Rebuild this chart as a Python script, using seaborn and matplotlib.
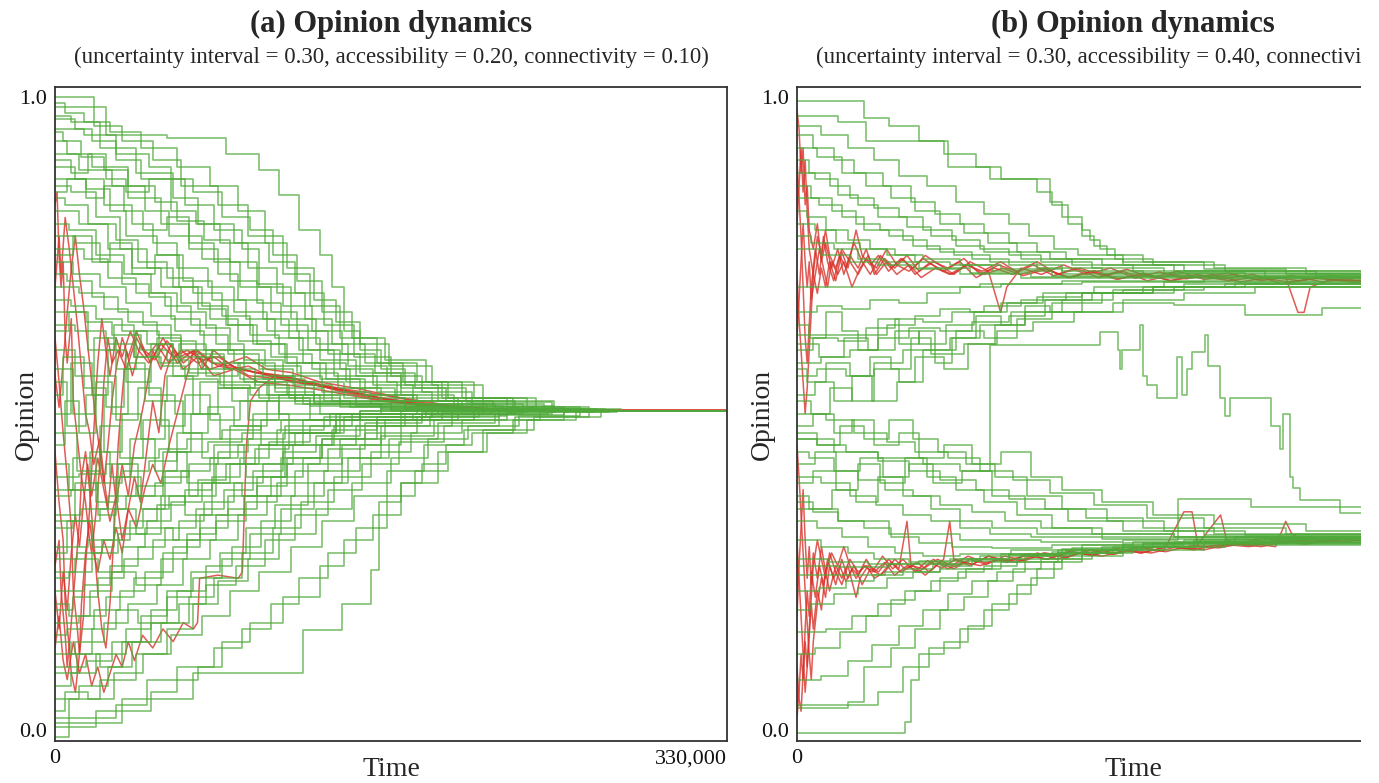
import matplotlib
matplotlib.use("Agg")
import matplotlib.pyplot as plt
from matplotlib.patches import Rectangle
import pandas as pd
import seaborn as sns

# ---------------------------------------------------------------------------
# Agent opinion trajectories, as (time in thousands of steps, opinion) pairs.
# Each agent keeps its last opinion until the end of the run.
# ---------------------------------------------------------------------------
T_END = 330  # thousands of steps

# (a) uncertainty 0.30, accessibility 0.20, connectivity 0.10
a_green_upper = [
    [(0, 1.0), (19, 0.955), (33, 0.93), (48, 0.90), (62, 0.86), (80, 0.83), (95, 0.78), (112, 0.72), (125, 0.67), (140, 0.62), (158, 0.58), (178, 0.55), (200, 0.525), (232, 0.51), (262, 0.505)],
    [(0, 0.985), (25, 0.94), (55, 0.935), (84, 0.91), (100, 0.885), (110, 0.845), (120, 0.79), (130, 0.75), (136, 0.70), (142, 0.63), (150, 0.60), (160, 0.57), (172, 0.545), (188, 0.52), (215, 0.51), (250, 0.505)],
    [(0, 0.97), (8, 0.96), (22, 0.92), (40, 0.88), (58, 0.84), (70, 0.80), (88, 0.77), (105, 0.74), (118, 0.69), (132, 0.64), (147, 0.59), (165, 0.56), (180, 0.535), (205, 0.515), (240, 0.505)],
    [(0, 0.95), (14, 0.94), (30, 0.90), (42, 0.87), (64, 0.83), (78, 0.79), (92, 0.76), (100, 0.70), (116, 0.65), (128, 0.61), (144, 0.575), (163, 0.55), (190, 0.525), (225, 0.508), (270, 0.505)],
    [(0, 0.93), (6, 0.91), (18, 0.89), (36, 0.84), (52, 0.80), (66, 0.76), (80, 0.72), (90, 0.68), (102, 0.65), (115, 0.62), (130, 0.585), (148, 0.56), (170, 0.53), (196, 0.512), (245, 0.505)],
    [(0, 0.91), (12, 0.885), (28, 0.86), (44, 0.82), (56, 0.78), (72, 0.745), (86, 0.71), (99, 0.675), (111, 0.64), (124, 0.60), (140, 0.57), (156, 0.545), (176, 0.52), (210, 0.506), (275, 0.505)],
    [(0, 0.89), (10, 0.87), (24, 0.83), (38, 0.80), (48, 0.77), (60, 0.73), (75, 0.70), (88, 0.66), (104, 0.63), (120, 0.60), (137, 0.56), (158, 0.535), (185, 0.515), (230, 0.505)],
    [(0, 0.87), (15, 0.855), (27, 0.82), (35, 0.78), (50, 0.75), (63, 0.71), (77, 0.68), (94, 0.65), (108, 0.62), (122, 0.58), (143, 0.55), (168, 0.525), (198, 0.508), (255, 0.505)],
    [(0, 0.86), (8, 0.85), (20, 0.81), (32, 0.76), (45, 0.73), (58, 0.70), (70, 0.665), (84, 0.64), (97, 0.61), (113, 0.58), (133, 0.555), (152, 0.53), (178, 0.512), (220, 0.505)],
    [(0, 0.84), (5, 0.83), (16, 0.80), (30, 0.775), (41, 0.74), (55, 0.715), (68, 0.69), (82, 0.655), (96, 0.625), (110, 0.595), (126, 0.57), (145, 0.54), (167, 0.52), (200, 0.507), (260, 0.505)],
    [(0, 0.82), (12, 0.80), (26, 0.76), (38, 0.73), (52, 0.70), (62, 0.675), (76, 0.65), (90, 0.615), (106, 0.59), (119, 0.565), (139, 0.54), (160, 0.52), (205, 0.508), (248, 0.505)],
    [(0, 0.80), (7, 0.79), (20, 0.75), (34, 0.72), (47, 0.69), (60, 0.66), (74, 0.635), (86, 0.60), (103, 0.575), (121, 0.55), (142, 0.525), (172, 0.51), (235, 0.505)],
    [(0, 0.78), (10, 0.77), (22, 0.74), (33, 0.705), (46, 0.685), (57, 0.65), (71, 0.625), (85, 0.595), (100, 0.57), (117, 0.545), (136, 0.52), (180, 0.51), (228, 0.505)],
    [(0, 0.76), (14, 0.745), (26, 0.715), (40, 0.69), (54, 0.67), (67, 0.64), (79, 0.61), (93, 0.585), (112, 0.56), (131, 0.535), (155, 0.515), (212, 0.505)],
    [(0, 0.74), (9, 0.72), (22, 0.70), (35, 0.675), (47, 0.655), (59, 0.63), (73, 0.60), (88, 0.58), (102, 0.555), (123, 0.53), (148, 0.512), (200, 0.505)],
    [(0, 0.72), (6, 0.71), (18, 0.685), (31, 0.66), (43, 0.64), (57, 0.615), (69, 0.595), (83, 0.57), (98, 0.545), (115, 0.525), (140, 0.51), (190, 0.505)],
    [(0, 0.70), (12, 0.69), (24, 0.665), (36, 0.645), (50, 0.625), (62, 0.60), (77, 0.58), (91, 0.555), (108, 0.535), (127, 0.518), (172, 0.508), (222, 0.505)],
    [(0, 0.68), (8, 0.67), (20, 0.65), (33, 0.63), (45, 0.61), (58, 0.59), (72, 0.57), (87, 0.55), (104, 0.53), (122, 0.515), (165, 0.505)],
    [(0, 0.66), (15, 0.645), (28, 0.625), (42, 0.60), (55, 0.585), (66, 0.565), (81, 0.545), (96, 0.53), (118, 0.515), (160, 0.508), (215, 0.505)],
    [(0, 0.64), (10, 0.63), (25, 0.61), (39, 0.59), (52, 0.575), (64, 0.555), (80, 0.54), (100, 0.525), (125, 0.512), (180, 0.505)],
    [(0, 0.99), (5, 0.975), (14, 0.96), (27, 0.945), (42, 0.92), (60, 0.89), (76, 0.86), (90, 0.82), (103, 0.77), (114, 0.73), (127, 0.68), (138, 0.645), (150, 0.61), (164, 0.575), (185, 0.545), (210, 0.52), (245, 0.507), (278, 0.505)],
    [(0, 0.965), (10, 0.95), (18, 0.93), (30, 0.91), (46, 0.89), (57, 0.87), (68, 0.85), (82, 0.81), (96, 0.79), (107, 0.75), (119, 0.71), (131, 0.66), (146, 0.62), (162, 0.585), (182, 0.55), (206, 0.525), (236, 0.508), (266, 0.505)],
    [(0, 0.945), (4, 0.93), (13, 0.905), (24, 0.885), (36, 0.86), (49, 0.835), (60, 0.805), (73, 0.775), (86, 0.74), (99, 0.705), (112, 0.67), (126, 0.63), (141, 0.595), (157, 0.565), (177, 0.54), (202, 0.518), (244, 0.505)],
    [(0, 0.90), (8, 0.88), (16, 0.91), (25, 0.87), (35, 0.85), (46, 0.87), (57, 0.82), (69, 0.80), (81, 0.77), (95, 0.73), (109, 0.69), (123, 0.65), (136, 0.61), (152, 0.58), (171, 0.55), (193, 0.525), (222, 0.51), (258, 0.505)],
    [(0, 0.85), (6, 0.87), (15, 0.84), (24, 0.86), (34, 0.82), (43, 0.79), (55, 0.81), (66, 0.77), (78, 0.74), (91, 0.70), (106, 0.66), (119, 0.63), (134, 0.595), (150, 0.565), (170, 0.54), (192, 0.52), (226, 0.505)],
    [(0, 0.75), (9, 0.78), (18, 0.74), (27, 0.77), (38, 0.72), (49, 0.75), (61, 0.70), (72, 0.67), (85, 0.64), (99, 0.61), (114, 0.58), (130, 0.555), (150, 0.53), (176, 0.515), (216, 0.505)],
]

a_green_lower = [
    [(0, 0.012), (33, 0.05), (68, 0.09), (122, 0.158), (141, 0.20), (155, 0.253), (159, 0.36), (170, 0.39), (180, 0.42), (192, 0.45), (205, 0.47), (225, 0.49), (250, 0.503), (272, 0.505)],
    [(0, -0.01), (7, 0.05), (22, 0.08), (40, 0.12), (55, 0.16), (68, 0.20), (80, 0.235), (95, 0.27), (110, 0.31), (128, 0.35), (146, 0.39), (165, 0.43), (183, 0.46), (203, 0.48), (228, 0.497), (258, 0.505)],
    [(0, 0.02), (30, 0.04), (45, 0.08), (70, 0.10), (82, 0.14), (96, 0.17), (112, 0.21), (130, 0.26), (142, 0.30), (156, 0.34), (170, 0.39), (188, 0.44), (210, 0.475), (235, 0.495), (268, 0.505)],
    [(0, 0.05), (12, 0.07), (26, 0.10), (38, 0.14), (52, 0.17), (66, 0.21), (78, 0.24), (92, 0.28), (107, 0.32), (121, 0.36), (137, 0.40), (155, 0.44), (175, 0.47), (200, 0.49), (238, 0.502), (265, 0.505)],
    [(0, 0.07), (8, 0.09), (20, 0.12), (35, 0.16), (47, 0.19), (60, 0.22), (74, 0.26), (87, 0.29), (101, 0.33), (116, 0.37), (132, 0.41), (150, 0.45), (170, 0.48), (195, 0.50), (230, 0.505)],
    [(0, 0.10), (15, 0.11), (28, 0.14), (42, 0.18), (55, 0.21), (67, 0.25), (81, 0.28), (94, 0.32), (108, 0.355), (124, 0.39), (141, 0.43), (160, 0.465), (186, 0.49), (222, 0.503), (252, 0.505)],
    [(0, 0.12), (10, 0.14), (24, 0.17), (36, 0.20), (50, 0.23), (63, 0.27), (76, 0.30), (90, 0.34), (104, 0.37), (118, 0.41), (134, 0.445), (152, 0.47), (178, 0.495), (218, 0.505)],
    [(0, 0.15), (6, 0.16), (19, 0.19), (32, 0.22), (44, 0.25), (58, 0.29), (71, 0.32), (85, 0.35), (99, 0.385), (114, 0.42), (130, 0.45), (148, 0.48), (172, 0.50), (210, 0.505)],
    [(0, 0.17), (12, 0.18), (25, 0.21), (39, 0.24), (53, 0.28), (65, 0.31), (79, 0.34), (93, 0.37), (106, 0.40), (122, 0.43), (140, 0.46), (162, 0.49), (198, 0.50), (242, 0.505)],
    [(0, 0.19), (9, 0.21), (21, 0.24), (34, 0.27), (48, 0.30), (61, 0.33), (73, 0.36), (88, 0.39), (102, 0.42), (117, 0.45), (136, 0.475), (158, 0.495), (208, 0.505)],
    [(0, 0.22), (14, 0.23), (27, 0.26), (41, 0.29), (54, 0.32), (69, 0.35), (83, 0.38), (97, 0.41), (112, 0.44), (128, 0.465), (150, 0.49), (190, 0.502), (232, 0.505)],
    [(0, 0.24), (7, 0.25), (18, 0.28), (31, 0.31), (45, 0.33), (57, 0.36), (72, 0.39), (86, 0.42), (100, 0.45), (118, 0.47), (142, 0.495), (185, 0.505)],
    [(0, 0.27), (11, 0.28), (23, 0.30), (37, 0.33), (50, 0.355), (64, 0.38), (77, 0.40), (91, 0.43), (105, 0.455), (125, 0.48), (146, 0.50), (195, 0.505)],
    [(0, 0.29), (16, 0.30), (29, 0.32), (43, 0.35), (56, 0.37), (70, 0.395), (84, 0.42), (98, 0.445), (115, 0.47), (138, 0.49), (176, 0.50), (226, 0.505)],
    [(0, 0.32), (9, 0.33), (22, 0.35), (35, 0.37), (49, 0.39), (62, 0.41), (76, 0.43), (90, 0.45), (109, 0.475), (132, 0.495), (182, 0.505)],
    [(0, 0.34), (13, 0.35), (26, 0.37), (40, 0.385), (53, 0.40), (66, 0.42), (80, 0.44), (95, 0.46), (113, 0.48), (135, 0.50), (170, 0.505)],
    [(0, 0.37), (8, 0.38), (20, 0.39), (33, 0.41), (46, 0.425), (60, 0.44), (75, 0.455), (92, 0.47), (111, 0.49), (150, 0.50), (200, 0.505)],
    [(0, 0.40), (12, 0.405), (25, 0.42), (38, 0.43), (51, 0.445), (65, 0.46), (82, 0.475), (101, 0.49), (140, 0.50), (188, 0.505)],
    [(0, 0.005), (20, 0.03), (47, 0.06), (60, 0.10), (78, 0.13), (92, 0.16), (106, 0.20), (120, 0.24), (134, 0.28), (148, 0.32), (163, 0.37), (177, 0.41), (193, 0.44), (212, 0.47), (232, 0.49), (256, 0.503), (276, 0.505)],
    [(0, 0.03), (5, 0.06), (16, 0.05), (29, 0.09), (43, 0.12), (57, 0.15), (72, 0.18), (86, 0.22), (100, 0.25), (116, 0.29), (131, 0.33), (147, 0.37), (163, 0.41), (181, 0.45), (201, 0.475), (226, 0.495), (262, 0.505)],
    [(0, 0.09), (11, 0.12), (22, 0.10), (33, 0.14), (47, 0.17), (61, 0.20), (74, 0.23), (89, 0.26), (103, 0.30), (118, 0.34), (134, 0.38), (151, 0.42), (169, 0.455), (191, 0.48), (218, 0.498), (250, 0.505)],
    [(0, 0.14), (8, 0.12), (18, 0.16), (30, 0.19), (41, 0.17), (55, 0.22), (68, 0.24), (82, 0.27), (96, 0.31), (111, 0.35), (127, 0.39), (144, 0.43), (164, 0.46), (188, 0.485), (216, 0.50), (244, 0.505)],
    [(0, 0.20), (7, 0.18), (17, 0.22), (28, 0.25), (40, 0.23), (52, 0.27), (65, 0.30), (79, 0.33), (94, 0.36), (109, 0.39), (124, 0.42), (141, 0.45), (160, 0.48), (184, 0.497), (222, 0.505)],
    [(0, 0.25), (10, 0.27), (21, 0.25), (33, 0.29), (44, 0.32), (58, 0.30), (71, 0.34), (85, 0.37), (99, 0.40), (114, 0.43), (131, 0.46), (152, 0.485), (180, 0.50), (214, 0.505)],
]

a_green_middle = [
    [(0, 0.45), (5, 0.52), (12, 0.47), (20, 0.55), (28, 0.50), (36, 0.58), (44, 0.52), (55, 0.56), (68, 0.50), (80, 0.54), (95, 0.49), (110, 0.53), (130, 0.50), (160, 0.51), (200, 0.505)],
    [(0, 0.55), (6, 0.48), (15, 0.53), (24, 0.44), (33, 0.50), (42, 0.46), (54, 0.52), (63, 0.47), (75, 0.51), (88, 0.48), (104, 0.52), (125, 0.49), (150, 0.505)],
    [(0, 0.50), (8, 0.58), (18, 0.53), (26, 0.60), (35, 0.55), (47, 0.61), (58, 0.56), (70, 0.59), (83, 0.54), (98, 0.56), (118, 0.52), (145, 0.51), (196, 0.505)],
    [(0, 0.42), (7, 0.38), (17, 0.44), (27, 0.40), (37, 0.46), (49, 0.41), (60, 0.47), (72, 0.43), (86, 0.48), (101, 0.45), (122, 0.49), (150, 0.50), (205, 0.505)],
    [(0, 0.60), (10, 0.56), (19, 0.62), (30, 0.57), (40, 0.63), (51, 0.58), (61, 0.61), (74, 0.56), (90, 0.58), (108, 0.54), (132, 0.52), (165, 0.508), (238, 0.505)],
    [(0, 0.38), (9, 0.43), (20, 0.36), (31, 0.42), (41, 0.37), (53, 0.44), (65, 0.39), (78, 0.45), (93, 0.42), (112, 0.47), (140, 0.49), (180, 0.503), (246, 0.505)],
    [(0, 0.47), (11, 0.41), (22, 0.48), (32, 0.43), (43, 0.49), (56, 0.44), (67, 0.50), (81, 0.46), (97, 0.50), (115, 0.47), (138, 0.50), (178, 0.505)],
    [(0, 0.53), (4, 0.59), (14, 0.54), (25, 0.51), (34, 0.57), (46, 0.53), (59, 0.50), (71, 0.55), (87, 0.52), (105, 0.55), (127, 0.515), (160, 0.507), (214, 0.505)],
    [(0, 0.33), (10, 0.39), (21, 0.34), (30, 0.40), (42, 0.35), (54, 0.41), (66, 0.37), (79, 0.42), (94, 0.40), (113, 0.45), (137, 0.48), (170, 0.50), (224, 0.505)],
    [(0, 0.63), (7, 0.66), (16, 0.60), (29, 0.64), (39, 0.59), (50, 0.62), (62, 0.57), (77, 0.60), (93, 0.55), (114, 0.53), (140, 0.515), (186, 0.505)],
    [(0, 0.28), (6, 0.33), (18, 0.29), (29, 0.35), (40, 0.31), (52, 0.37), (64, 0.34), (77, 0.39), (92, 0.37), (111, 0.43), (131, 0.46), (158, 0.49), (206, 0.505)],
    [(0, 0.57), (9, 0.50), (19, 0.56), (30, 0.49), (41, 0.54), (52, 0.48), (64, 0.53), (76, 0.49), (91, 0.52), (110, 0.50), (150, 0.505)],
]

a_red = [
    [(0, 0.83), (1, 0.85), (2, 0.75), (3, 0.70), (4, 0.74), (5, 0.62), (6, 0.58), (8, 0.65), (9, 0.52), (11, 0.46), (13, 0.40), (15, 0.36), (17, 0.30), (18, 0.28), (20, 0.34), (22, 0.42), (24, 0.55), (26, 0.62), (28, 0.58), (31, 0.60), (35, 0.57), (40, 0.62), (45, 0.59), (50, 0.61), (56, 0.58), (62, 0.60), (70, 0.58), (78, 0.59), (86, 0.57), (95, 0.575), (105, 0.56), (118, 0.555), (130, 0.545), (145, 0.535), (160, 0.525), (180, 0.515), (200, 0.51), (230, 0.505)],
    [(0, 0.62), (2, 0.55), (4, 0.47), (6, 0.40), (8, 0.32), (9, 0.22), (11, 0.16), (12, 0.12), (14, 0.18), (15, 0.26), (17, 0.35), (19, 0.47), (21, 0.58), (23, 0.65), (25, 0.60), (27, 0.56), (30, 0.62), (33, 0.59), (37, 0.63), (41, 0.60), (46, 0.58), (52, 0.61), (58, 0.59), (65, 0.60), (72, 0.585), (80, 0.59), (90, 0.57), (100, 0.565), (112, 0.56), (125, 0.55), (140, 0.54), (160, 0.53), (185, 0.515), (215, 0.507), (240, 0.505)],
    [(0, 0.26), (2, 0.30), (3, 0.22), (5, 0.15), (6, 0.10), (8, 0.17), (10, 0.25), (12, 0.33), (13, 0.40), (15, 0.44), (17, 0.38), (19, 0.30), (21, 0.22), (23, 0.16), (25, 0.13), (27, 0.20), (29, 0.31), (31, 0.45), (33, 0.53), (35, 0.60), (38, 0.56), (42, 0.61), (47, 0.58), (53, 0.62), (60, 0.58), (68, 0.60), (76, 0.57), (85, 0.58), (95, 0.56), (110, 0.555), (128, 0.545), (150, 0.53), (175, 0.515), (210, 0.505)],
    [(0, 0.56), (2, 0.51), (4, 0.58), (6, 0.66), (8, 0.73), (10, 0.78), (12, 0.72), (14, 0.67), (16, 0.61), (18, 0.55), (20, 0.49), (22, 0.44), (24, 0.39), (26, 0.45), (28, 0.52), (30, 0.57), (33, 0.62), (36, 0.59), (40, 0.63), (44, 0.60), (49, 0.585), (55, 0.615), (61, 0.59), (69, 0.60), (77, 0.58), (87, 0.575), (98, 0.565), (110, 0.56), (124, 0.55), (140, 0.535), (162, 0.52), (190, 0.51), (225, 0.505)],
    [(0, 0.44), (2, 0.36), (4, 0.30), (5, 0.20), (7, 0.13), (8, 0.09), (10, 0.06), (12, 0.12), (13, 0.20), (15, 0.28), (17, 0.33), (19, 0.28), (21, 0.25), (24, 0.30), (27, 0.27), (30, 0.32), (33, 0.28), (36, 0.35), (39, 0.40), (42, 0.36), (45, 0.44), (48, 0.52), (51, 0.47), (54, 0.56), (58, 0.60), (63, 0.57), (70, 0.59), (78, 0.56), (88, 0.57), (100, 0.55), (115, 0.545), (135, 0.535), (160, 0.52), (190, 0.51), (220, 0.505)],
    [(0, 0.13), (2, 0.18), (4, 0.11), (6, 0.08), (9, 0.14), (12, 0.09), (15, 0.12), (18, 0.07), (21, 0.10), (24, 0.06), (27, 0.09), (30, 0.12), (33, 0.10), (36, 0.14), (39, 0.11), (43, 0.15), (48, 0.13), (53, 0.16), (58, 0.14), (63, 0.17), (68, 0.16), (70, 0.17), (71, 0.24), (80, 0.245), (90, 0.24), (92, 0.25), (94, 0.45), (96, 0.52), (100, 0.54), (108, 0.56), (116, 0.55), (128, 0.545), (145, 0.535), (165, 0.52), (195, 0.51), (230, 0.505)],
    [(0, 0.70), (2, 0.78), (3, 0.72), (5, 0.81), (7, 0.76), (9, 0.70), (11, 0.64), (13, 0.57), (15, 0.50), (17, 0.47), (19, 0.42), (22, 0.46), (24, 0.40), (26, 0.35), (28, 0.42), (30, 0.36), (33, 0.42), (36, 0.37), (39, 0.45), (42, 0.49), (45, 0.54), (48, 0.60), (52, 0.57), (57, 0.61), (63, 0.58), (70, 0.60), (80, 0.575), (92, 0.57), (105, 0.56), (120, 0.55), (138, 0.54), (160, 0.525), (190, 0.512), (222, 0.505)],
    [(0, 0.22), (2, 0.16), (4, 0.25), (6, 0.19), (8, 0.28), (10, 0.34), (12, 0.29), (14, 0.36), (16, 0.42), (18, 0.37), (21, 0.43), (24, 0.38), (27, 0.33), (30, 0.37), (33, 0.30), (36, 0.35), (40, 0.32), (44, 0.38), (48, 0.42), (52, 0.39), (56, 0.45), (60, 0.50), (64, 0.55), (68, 0.60), (72, 0.57), (78, 0.60), (85, 0.58), (94, 0.59), (104, 0.57), (116, 0.565), (130, 0.55), (148, 0.54), (170, 0.525), (200, 0.51), (235, 0.505)],
]

# (b) uncertainty 0.30, accessibility 0.40, connectivity 0.10
b_green_upper = [
    [(0, 0.994), (33, 0.967), (45, 0.955), (60, 0.93), (72, 0.91), (88, 0.89), (100, 0.87), (118, 0.85), (125, 0.83), (133, 0.80), (140, 0.78), (146, 0.765), (152, 0.75), (160, 0.74), (205, 0.73), (250, 0.72)],
    [(0, 0.97), (20, 0.96), (34, 0.93), (74, 0.89), (95, 0.87), (124, 0.834), (130, 0.81), (140, 0.79), (144, 0.775), (149, 0.76), (156, 0.745), (175, 0.735), (210, 0.725), (255, 0.718)],
    [(0, 0.955), (12, 0.94), (25, 0.92), (38, 0.90), (50, 0.875), (64, 0.86), (78, 0.835), (92, 0.815), (104, 0.80), (114, 0.78), (126, 0.76), (138, 0.75), (170, 0.74), (200, 0.728), (240, 0.72)],
    [(0, 0.94), (8, 0.92), (18, 0.90), (28, 0.88), (42, 0.86), (56, 0.835), (68, 0.815), (80, 0.80), (92, 0.785), (104, 0.77), (118, 0.755), (132, 0.745), (160, 0.735), (190, 0.725), (230, 0.716)],
    [(0, 0.92), (10, 0.905), (22, 0.88), (34, 0.86), (46, 0.84), (58, 0.82), (70, 0.80), (82, 0.785), (94, 0.77), (108, 0.755), (124, 0.745), (150, 0.735), (185, 0.725)],
    [(0, 0.90), (6, 0.88), (16, 0.86), (26, 0.84), (38, 0.825), (50, 0.81), (62, 0.79), (76, 0.775), (90, 0.76), (104, 0.75), (120, 0.74), (145, 0.73), (180, 0.722), (220, 0.715)],
    [(0, 0.88), (9, 0.87), (20, 0.845), (30, 0.83), (40, 0.81), (54, 0.795), (66, 0.78), (78, 0.765), (92, 0.755), (110, 0.745), (135, 0.735), (165, 0.726)],
    [(0, 0.86), (7, 0.84), (17, 0.82), (29, 0.80), (41, 0.79), (52, 0.775), (64, 0.76), (77, 0.75), (95, 0.74), (118, 0.73), (150, 0.722)],
    [(0, 0.84), (11, 0.83), (22, 0.81), (33, 0.79), (45, 0.78), (57, 0.765), (70, 0.755), (86, 0.745), (104, 0.735), (130, 0.726), (170, 0.718)],
    [(0, 0.82), (5, 0.81), (14, 0.79), (25, 0.775), (36, 0.76), (48, 0.75), (62, 0.745), (80, 0.735), (100, 0.728), (130, 0.72)],
    [(0, 0.80), (9, 0.79), (19, 0.77), (31, 0.76), (44, 0.75), (58, 0.74), (75, 0.735), (96, 0.725), (125, 0.718)],
    [(0, 0.78), (7, 0.77), (18, 0.76), (30, 0.745), (43, 0.74), (60, 0.73), (85, 0.722), (115, 0.716)],
    [(0, 0.76), (12, 0.75), (26, 0.74), (40, 0.735), (58, 0.728), (80, 0.72), (110, 0.714)],
    [(0, 0.70), (45, 0.70), (90, 0.705), (140, 0.708), (200, 0.712)],
    [(0, 0.66), (10, 0.67), (22, 0.665), (36, 0.68), (50, 0.675), (64, 0.69), (80, 0.70), (100, 0.705), (130, 0.71)],
    [(0, 0.624), (44, 0.64), (58, 0.655), (70, 0.665), (85, 0.66), (100, 0.675), (118, 0.685), (140, 0.69), (175, 0.70), (210, 0.705)],
    [(0, 0.60), (8, 0.62), (20, 0.615), (34, 0.635), (48, 0.65), (62, 0.645), (76, 0.66), (92, 0.67), (110, 0.68), (132, 0.69), (160, 0.695), (200, 0.70)],
    [(0, 0.58), (12, 0.59), (26, 0.60), (40, 0.62), (55, 0.635), (70, 0.63), (86, 0.645), (104, 0.655), (122, 0.66), (155, 0.675), (185, 0.672), (220, 0.656), (258, 0.667)],
    [(0, 0.56), (10, 0.57), (24, 0.56), (38, 0.58), (52, 0.60), (66, 0.595), (82, 0.61), (98, 0.63), (116, 0.645), (136, 0.66), (160, 0.68), (190, 0.69), (225, 0.70)],
    [(0, 0.64), (6, 0.62), (14, 0.66), (22, 0.63), (30, 0.60), (40, 0.65), (50, 0.61), (60, 0.63), (68, 0.58), (76, 0.62), (88, 0.655), (100, 0.64), (112, 0.67), (124, 0.66), (140, 0.69), (170, 0.70), (220, 0.705)],
    [(0, 0.53), (9, 0.55), (18, 0.52), (27, 0.56), (36, 0.59), (46, 0.57), (56, 0.62), (66, 0.60), (78, 0.63), (92, 0.62), (108, 0.65), (125, 0.675), (150, 0.69), (185, 0.70)],
    [(0, 0.52), (7, 0.50), (16, 0.54), (27, 0.52), (38, 0.57), (50, 0.55), (62, 0.60), (75, 0.62), (90, 0.64), (105, 0.66), (122, 0.68), (145, 0.69), (175, 0.70), (215, 0.706)],
    [(0, 0.61), (11, 0.59), (23, 0.62), (35, 0.60), (48, 0.63), (60, 0.61), (73, 0.64), (87, 0.66), (103, 0.675), (121, 0.69), (146, 0.70), (180, 0.708)],
    [(0, 0.57), (5, 0.55), (14, 0.58), (26, 0.56), (37, 0.52), (49, 0.55), (58, 0.59), (72, 0.57), (84, 0.61), (97, 0.64), (112, 0.66), (130, 0.68), (155, 0.695), (190, 0.705)],
]

b_green_lower = [
    [(0, -0.005), (53, 0.013), (56, 0.079), (60, 0.12), (72, 0.14), (84, 0.165), (96, 0.20), (108, 0.23), (118, 0.255), (130, 0.27), (145, 0.28), (165, 0.29), (200, 0.298), (240, 0.303)],
    [(0, 0.035), (25, 0.04), (40, 0.06), (52, 0.10), (65, 0.13), (80, 0.16), (92, 0.19), (104, 0.215), (115, 0.24), (126, 0.265), (140, 0.28), (160, 0.29), (195, 0.30)],
    [(0, 0.04), (25, 0.045), (33, 0.10), (46, 0.13), (58, 0.16), (70, 0.19), (82, 0.21), (94, 0.235), (106, 0.255), (120, 0.27), (140, 0.285), (170, 0.295), (210, 0.302)],
    [(0, 0.08), (12, 0.085), (25, 0.11), (37, 0.135), (50, 0.165), (62, 0.19), (74, 0.215), (86, 0.235), (98, 0.25), (112, 0.265), (128, 0.28), (150, 0.29), (185, 0.298)],
    [(0, 0.12), (9, 0.13), (21, 0.155), (34, 0.18), (46, 0.205), (58, 0.22), (70, 0.24), (83, 0.255), (96, 0.265), (112, 0.275), (132, 0.285), (160, 0.295)],
    [(0, 0.155), (14, 0.16), (27, 0.18), (40, 0.20), (53, 0.22), (66, 0.235), (79, 0.25), (92, 0.26), (108, 0.27), (128, 0.28), (155, 0.29), (195, 0.298)],
    [(0, 0.19), (7, 0.20), (18, 0.215), (30, 0.225), (44, 0.24), (57, 0.25), (70, 0.26), (86, 0.268), (104, 0.276), (128, 0.285), (160, 0.292)],
    [(0, 0.22), (11, 0.225), (24, 0.235), (38, 0.245), (52, 0.255), (67, 0.262), (84, 0.27), (104, 0.278), (130, 0.286), (170, 0.294)],
    [(0, 0.245), (43, 0.25), (70, 0.255), (100, 0.265), (130, 0.275), (160, 0.285), (200, 0.295)],
    [(0, 0.26), (20, 0.258), (45, 0.262), (80, 0.27), (110, 0.278), (140, 0.285), (180, 0.295), (230, 0.302)],
    [(0, 0.27), (15, 0.266), (35, 0.262), (60, 0.268), (90, 0.275), (125, 0.282), (165, 0.29), (210, 0.298), (260, 0.305)],
    [(0, 0.30), (12, 0.29), (25, 0.28), (38, 0.27), (55, 0.265), (75, 0.27), (100, 0.278), (135, 0.288), (175, 0.295), (225, 0.303)],
    [(0, 0.33), (10, 0.32), (22, 0.305), (35, 0.29), (48, 0.28), (62, 0.275), (80, 0.278), (105, 0.285), (140, 0.292), (190, 0.30)],
    [(0, 0.36), (8, 0.345), (20, 0.33), (33, 0.32), (46, 0.305), (60, 0.295), (76, 0.29), (96, 0.288), (125, 0.292), (165, 0.298), (215, 0.305)],
    [(0, 0.40), (12, 0.39), (26, 0.37), (39, 0.355), (52, 0.34), (66, 0.33), (80, 0.32), (95, 0.31), (115, 0.305), (150, 0.302)],
    [(0, 0.44), (6, 0.43), (18, 0.41), (30, 0.395), (43, 0.38), (57, 0.37), (70, 0.355), (86, 0.345), (102, 0.33), (120, 0.32), (145, 0.31), (185, 0.305)],
    [(0, 0.46), (10, 0.45), (24, 0.44), (40, 0.425), (55, 0.41), (70, 0.395), (88, 0.38), (104, 0.365), (122, 0.35), (142, 0.335), (170, 0.32), (205, 0.31)],
    [(0, 0.50), (14, 0.49), (28, 0.47), (44, 0.455), (58, 0.44), (74, 0.43), (90, 0.41), (106, 0.395), (124, 0.375), (146, 0.355), (172, 0.335), (200, 0.32), (240, 0.31)],
    [(0, 0.48), (8, 0.50), (18, 0.47), (27, 0.49), (38, 0.45), (50, 0.47), (60, 0.43), (72, 0.45), (86, 0.42), (100, 0.44), (115, 0.40), (130, 0.38), (150, 0.36), (175, 0.34), (205, 0.325), (250, 0.315)],
    [(0, 0.42), (9, 0.44), (19, 0.41), (31, 0.43), (42, 0.40), (55, 0.42), (67, 0.39), (81, 0.41), (96, 0.37), (112, 0.35), (133, 0.33), (160, 0.315), (200, 0.308)],
    [(0, 0.35), (20, 0.33), (45, 0.31), (80, 0.30), (120, 0.298), (160, 0.30), (187, 0.366), (223, 0.352)],
    [(0, 0.39), (8, 0.41), (19, 0.38), (30, 0.42), (41, 0.39), (53, 0.43), (64, 0.40), (78, 0.38), (92, 0.36), (108, 0.34), (125, 0.32), (150, 0.31), (185, 0.305)],
    [(0, 0.47), (10, 0.45), (21, 0.48), (33, 0.46), (45, 0.49), (57, 0.46), (69, 0.44), (83, 0.42), (97, 0.40), (113, 0.37), (130, 0.35), (152, 0.33), (180, 0.315), (220, 0.308)],
    [(0, 0.37), (6, 0.35), (17, 0.38), (29, 0.36), (40, 0.40), (52, 0.37), (66, 0.35), (80, 0.33), (96, 0.32), (118, 0.31), (150, 0.305)],
]

b_green_wander = [
    [(0, 0.46), (18, 0.44), (40, 0.43), (62, 0.42), (80, 0.41), (95, 0.608), (149, 0.629), (157.6, 0.60), (158.6, 0.57), (159.5, 0.60), (168.4, 0.64), (170, 0.56), (171.9, 0.545), (176.8, 0.524), (186.6, 0.59), (189, 0.53), (191.5, 0.57), (194, 0.597), (200.3, 0.624), (201.8, 0.575), (207.7, 0.524), (210, 0.497), (212.6, 0.524), (233, 0.48), (237, 0.445), (238.6, 0.50), (242, 0.40), (243.5, 0.382), (247, 0.363), (266.6, 0.343)],
]

b_red = [
    [(0, 0.98), (1, 0.95), (2, 0.88), (3, 0.92), (4, 0.83), (5, 0.86), (6, 0.79), (8, 0.76), (10, 0.80), (12, 0.74), (14, 0.77), (17, 0.73), (20, 0.76), (23, 0.72), (26, 0.75), (30, 0.73), (34, 0.76), (38, 0.72), (43, 0.745), (48, 0.73), (54, 0.75), (60, 0.725), (67, 0.74), (74, 0.73), (82, 0.745), (90, 0.72), (99, 0.735), (108, 0.725), (118, 0.74), (128, 0.72), (139, 0.73), (150, 0.718), (162, 0.728), (174, 0.715), (187, 0.725), (200, 0.712), (214, 0.72), (228, 0.71), (243, 0.718), (258, 0.708), (274, 0.715), (300, 0.712), (330, 0.714)],
    [(0, 0.90), (1, 0.84), (2, 0.78), (3, 0.70), (4, 0.62), (5, 0.58), (6, 0.64), (7, 0.70), (9, 0.76), (11, 0.72), (13, 0.78), (15, 0.74), (18, 0.71), (21, 0.75), (24, 0.73), (28, 0.77), (32, 0.74), (36, 0.72), (41, 0.75), (46, 0.73), (52, 0.745), (58, 0.72), (65, 0.738), (72, 0.725), (80, 0.74), (88, 0.715), (97, 0.73), (106, 0.72), (116, 0.735), (126, 0.718), (137, 0.73), (148, 0.715), (160, 0.725), (172, 0.71), (185, 0.72), (198, 0.715), (212, 0.722), (226, 0.712), (240, 0.715), (246, 0.66), (249, 0.66), (252, 0.70), (262, 0.712), (280, 0.705), (300, 0.715), (330, 0.712)],
    [(0, 0.80), (1, 0.86), (2, 0.92), (3, 0.85), (4, 0.90), (5, 0.82), (6, 0.76), (8, 0.72), (10, 0.69), (12, 0.73), (14, 0.70), (16, 0.74), (19, 0.71), (22, 0.755), (25, 0.73), (29, 0.79), (32, 0.75), (36, 0.735), (40, 0.75), (45, 0.725), (51, 0.745), (57, 0.73), (63, 0.75), (70, 0.735), (77, 0.72), (85, 0.74), (94, 0.725), (100, 0.66), (103, 0.70), (110, 0.73), (120, 0.72), (131, 0.735), (142, 0.72), (154, 0.73), (166, 0.714), (178, 0.724), (191, 0.713), (204, 0.72), (218, 0.708), (232, 0.716), (247, 0.71), (262, 0.718), (278, 0.708), (300, 0.714), (330, 0.713)],
    [(0, 0.62), (1, 0.68), (2, 0.74), (3, 0.80), (4, 0.74), (5, 0.70), (6, 0.74), (7, 0.68), (9, 0.72), (11, 0.76), (13, 0.73), (15, 0.70), (17, 0.74), (20, 0.72), (23, 0.74), (27, 0.70), (31, 0.73), (35, 0.75), (39, 0.72), (44, 0.74), (49, 0.72), (55, 0.735), (61, 0.715), (68, 0.73), (75, 0.72), (83, 0.735), (91, 0.725), (100, 0.74), (110, 0.72), (121, 0.73), (133, 0.715), (145, 0.725), (157, 0.712), (170, 0.722), (183, 0.71), (196, 0.72), (210, 0.713), (224, 0.72), (238, 0.705), (254, 0.714), (270, 0.71), (300, 0.713), (330, 0.714)],
    [(0, 0.72), (1, 0.65), (2, 0.60), (3, 0.55), (4, 0.50), (5, 0.54), (6, 0.60), (7, 0.66), (8, 0.72), (10, 0.78), (12, 0.75), (14, 0.79), (16, 0.75), (19, 0.73), (22, 0.76), (26, 0.74), (30, 0.72), (34, 0.745), (39, 0.73), (44, 0.76), (49, 0.735), (55, 0.725), (62, 0.745), (69, 0.73), (76, 0.72), (84, 0.735), (92, 0.72), (101, 0.73), (111, 0.718), (122, 0.728), (134, 0.715), (146, 0.726), (158, 0.713), (171, 0.72), (184, 0.71), (198, 0.718), (212, 0.71), (226, 0.716), (241, 0.708), (256, 0.714), (272, 0.71), (300, 0.713), (330, 0.714)],
    [(0, 0.02), (1, 0.06), (2, 0.12), (3, 0.08), (4, 0.16), (5, 0.22), (6, 0.18), (7, 0.25), (9, 0.21), (11, 0.26), (13, 0.23), (15, 0.27), (18, 0.24), (21, 0.26), (24, 0.235), (27, 0.255), (30, 0.245), (34, 0.27), (38, 0.25), (43, 0.265), (48, 0.245), (54, 0.26), (60, 0.25), (67, 0.27), (74, 0.255), (82, 0.265), (90, 0.26), (99, 0.27), (108, 0.265), (118, 0.28), (128, 0.27), (139, 0.28), (150, 0.275), (162, 0.285), (174, 0.28), (187, 0.29), (200, 0.285), (214, 0.295), (228, 0.29), (243, 0.30), (258, 0.297), (274, 0.303), (300, 0.30), (330, 0.303)],
    [(0, 0.10), (1, 0.05), (2, 0.03), (3, 0.09), (4, 0.14), (5, 0.10), (6, 0.16), (7, 0.21), (8, 0.26), (10, 0.30), (12, 0.27), (14, 0.24), (16, 0.28), (19, 0.25), (22, 0.23), (25, 0.26), (29, 0.21), (31, 0.24), (35, 0.26), (40, 0.25), (45, 0.27), (50, 0.255), (54, 0.33), (56, 0.26), (62, 0.255), (69, 0.27), (76, 0.26), (84, 0.275), (92, 0.265), (101, 0.27), (111, 0.268), (121, 0.28), (132, 0.272), (143, 0.285), (155, 0.278), (167, 0.29), (180, 0.283), (190, 0.345), (194, 0.345), (197, 0.29), (210, 0.292), (224, 0.30), (238, 0.295), (253, 0.302), (268, 0.298), (290, 0.303), (330, 0.303)],
    [(0, 0.30), (1, 0.24), (2, 0.18), (3, 0.12), (4, 0.06), (5, 0.10), (6, 0.15), (7, 0.20), (8, 0.16), (10, 0.22), (12, 0.19), (14, 0.25), (16, 0.22), (19, 0.26), (22, 0.24), (26, 0.27), (30, 0.25), (34, 0.26), (38, 0.24), (43, 0.25), (48, 0.27), (53, 0.255), (59, 0.265), (65, 0.25), (72, 0.27), (75, 0.33), (77, 0.27), (85, 0.26), (94, 0.275), (103, 0.268), (113, 0.276), (123, 0.27), (134, 0.282), (145, 0.276), (157, 0.287), (169, 0.28), (182, 0.29), (195, 0.286), (208, 0.34), (211, 0.30), (220, 0.292), (235, 0.30), (250, 0.296), (265, 0.302), (285, 0.30), (330, 0.303)],
    [(0, 0.45), (1, 0.40), (2, 0.34), (3, 0.28), (4, 0.22), (5, 0.17), (6, 0.12), (7, 0.08), (8, 0.14), (10, 0.20), (12, 0.24), (14, 0.21), (16, 0.26), (19, 0.23), (22, 0.27), (25, 0.24), (28, 0.26), (32, 0.23), (36, 0.255), (41, 0.245), (46, 0.265), (51, 0.25), (57, 0.26), (63, 0.245), (70, 0.265), (77, 0.255), (85, 0.27), (93, 0.262), (102, 0.275), (112, 0.268), (122, 0.28), (133, 0.274), (144, 0.284), (156, 0.278), (168, 0.288), (181, 0.282), (194, 0.292), (207, 0.288), (221, 0.296), (235, 0.29), (240, 0.33), (243, 0.31), (250, 0.298), (265, 0.302), (285, 0.30), (330, 0.303)],
    [(0, 0.18), (1, 0.26), (2, 0.32), (3, 0.38), (4, 0.30), (5, 0.24), (6, 0.29), (7, 0.23), (8, 0.28), (10, 0.24), (12, 0.29), (14, 0.25), (17, 0.28), (20, 0.26), (23, 0.29), (26, 0.26), (29, 0.24), (33, 0.26), (37, 0.25), (42, 0.275), (47, 0.255), (52, 0.27), (58, 0.25), (64, 0.268), (71, 0.256), (78, 0.27), (86, 0.262), (94, 0.275), (103, 0.265), (113, 0.278), (123, 0.27), (134, 0.283), (145, 0.276), (157, 0.286), (169, 0.28), (182, 0.29), (195, 0.285), (208, 0.294), (222, 0.29), (236, 0.298), (250, 0.294), (265, 0.302), (285, 0.299), (330, 0.303)],
]

titles = ["(a) Opinion dynamics", "(b) Opinion dynamics"]
subtitles = [
    "(uncertainty interval = 0.30, accessibility = 0.20, connectivity = 0.10)",
    "(uncertainty interval = 0.30, accessibility = 0.40, connectivity = 0.10)",
]
x_ticks = [[0, 330000], [0]]
x_tick_labels = [["0", "330,000"], ["0"]]
y_ticks = [0.0, 1.0]
y_tick_labels = ["0.0", "1.0"]

GREEN = "#4fa93a"
RED = "#d8322a"
SERIF = "Liberation Serif"


def to_frame(paths, tag):
    rows = []
    for i, path in enumerate(paths):
        pts = list(path)
        if pts[-1][0] < T_END:
            pts.append((T_END, pts[-1][1]))
        for t, v in pts:
            rows.append((f"{tag}{i}", t * 1000.0, v))
    return pd.DataFrame(rows, columns=["agent", "time", "opinion"])


panels = [
    (to_frame(a_green_upper + a_green_lower + a_green_middle, "g"), to_frame(a_red, "r")),
    (to_frame(b_green_upper + b_green_lower + b_green_wander, "g"), to_frame(b_red, "r")),
]

sns.set_style("white")
plt.rcParams["font.family"] = [SERIF, "DejaVu Serif"]

W, H = 1379, 783
fig = plt.figure(figsize=(W / 100, H / 100), dpi=100)
ax_w, ax_h = 672 / W, 654 / H
ax_bottom = 1 - 741 / H
lefts = [55 / W, 797 / W]
ylabel_x = [-0.043, -0.052]

for k, (green_df, red_df) in enumerate(panels):
    ax = fig.add_axes([lefts[k], ax_bottom, ax_w, ax_h])
    sns.lineplot(data=red_df, x="time", y="opinion", units="agent", estimator=None,
                 color=RED, lw=1.1, alpha=0.8, legend=False, ax=ax)
    sns.lineplot(data=green_df, x="time", y="opinion", units="agent", estimator=None,
                 color=GREEN, lw=1.2, alpha=0.72, drawstyle="steps-post", legend=False, ax=ax)

    ax.set_xlim(0, T_END * 1000)
    ax.set_ylim(-0.017, 1.016)
    ax.set_xticks(x_ticks[k])
    ax.set_xticklabels(x_tick_labels[k], fontsize=16, family=SERIF)
    ax.set_yticks(y_ticks)
    ax.set_yticklabels(y_tick_labels, fontsize=16, family=SERIF)
    ax.xaxis.get_ticklabels()[0].set_horizontalalignment("center")
    if len(x_ticks[k]) > 1:
        ax.xaxis.get_ticklabels()[-1].set_horizontalalignment("right")
    ax.tick_params(axis="both", length=0, pad=6, colors="#111111")
    ax.set_xlabel("")
    ax.set_ylabel("")
    ax.text(0.5, -0.044, "Time", transform=ax.transAxes, ha="center", va="center",
            fontsize=20, family=SERIF)
    ax.text(ylabel_x[k], 0.5, "Opinion", transform=ax.transAxes, ha="center", va="center",
            rotation=90, fontsize=20, family=SERIF)
    for side in ["left", "right", "top", "bottom"]:
        ax.spines[side].set_visible(True)
        ax.spines[side].set_color("#333333")
        ax.spines[side].set_linewidth(1.3)

    cx = lefts[k] + ax_w / 2
    fig.text(cx, 1 - 24 / H, titles[k], ha="center", va="center",
             fontsize=22, fontweight="bold", family=SERIF)
    fig.text(cx, 1 - 57 / H, subtitles[k], ha="center", va="center",
             fontsize=16.5, family=SERIF)

# the canvas ends just past the right panel's visible area
fig.add_artist(Rectangle((1361 / W, 0), 1, 1, transform=fig.transFigure,
                         facecolor="white", edgecolor="none", zorder=10))

fig.savefig("out.png", dpi=100)
